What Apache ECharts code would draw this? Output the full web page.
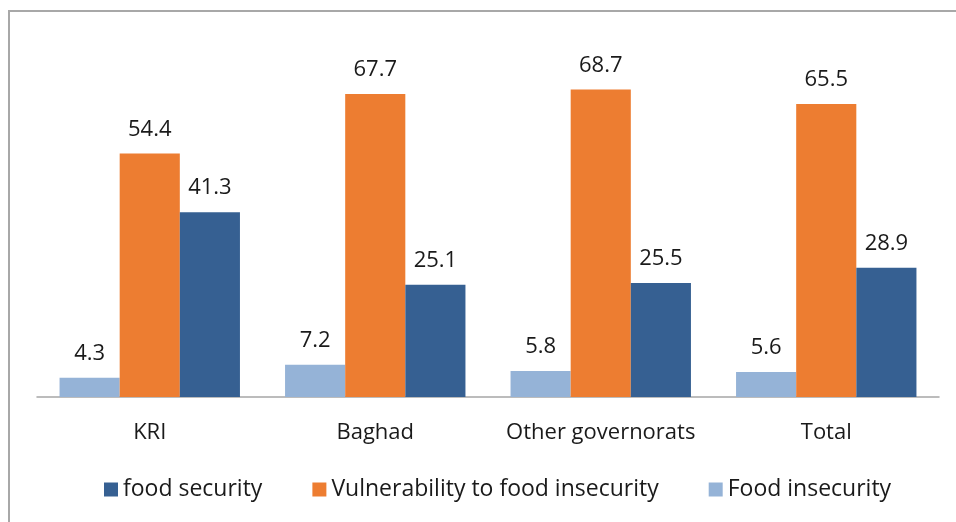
<!DOCTYPE html>
<html>
<head>
<meta charset="utf-8">
<style>
    html,body{margin:0;padding:0;background:#fff;}
    #foodChart{width:956px;height:522px;}
</style>
<script src="https://cdn.jsdelivr.net/npm/echarts@6/dist/echarts.min.js"></script>
</head>
<body>
<div id="foodChart"></div>
<script>
    // categories and values
    var categories = ['KRI', 'Baghad', 'Other governorats', 'Total'];
    var foodInsecurity = [4.3, 7.2, 5.8, 5.6];
    var vulnerability = [54.4, 67.7, 68.7, 65.5];
    var foodSecurity = [41.3, 25.1, 25.5, 28.9];
    var legendOrder = ['food security', 'Vulnerability to food insecurity', 'Food insecurity'];

    var font = 'Open Sans';
    var labelStyle = {
        show: true,
        position: 'top',
        distance: 13,
        fontFamily: font,
        fontSize: 22,
        color: '#1a1a1a'
    };

    var chart = echarts.init(document.getElementById('foodChart'));
    var option = {
        animation: false,
        graphic: [{
            type: 'rect',
            shape: {x: 9, y: 11, width: 1000, height: 600},
            style: {fill: 'none', stroke: '#a8a8a8', lineWidth: 2}
        }],
        grid: {left: 37, right: 17, top: 39, bottom: 125},
        legend: {
            data: legendOrder,
            left: 99,
            top: 473,
            itemWidth: 14,
            itemHeight: 14,
            itemGap: 50,
            icon: 'rect',
            textStyle: {fontFamily: font, fontSize: 23, color: '#1a1a1a'}
        },
        xAxis: {
            type: 'category',
            data: categories,
            axisLine: {lineStyle: {color: '#a6a6a6', width: 1.5}},
            axisTick: {show: false},
            axisLabel: {interval: 0, fontFamily: font, fontSize: 22, color: '#1a1a1a', margin: 25}
        },
        yAxis: {
            type: 'value',
            min: 0,
            max: 80,
            show: false,
            splitLine: {show: false}
        },
        series: [
            {
                name: 'Food insecurity',
                type: 'bar',
                data: foodInsecurity,
                barCategoryGap: '20%',
                barGap: '0%',
                itemStyle: {color: '#95b3d7'},
                label: labelStyle
            },
            {
                name: 'Vulnerability to food insecurity',
                type: 'bar',
                data: vulnerability,
                barGap: '0%',
                itemStyle: {color: '#ed7d31'},
                label: labelStyle
            },
            {
                name: 'food security',
                type: 'bar',
                data: foodSecurity,
                barGap: '0%',
                itemStyle: {color: '#366092'},
                label: labelStyle
            }
        ]
    };
    chart.setOption(option);
</script>
</body>
</html>
